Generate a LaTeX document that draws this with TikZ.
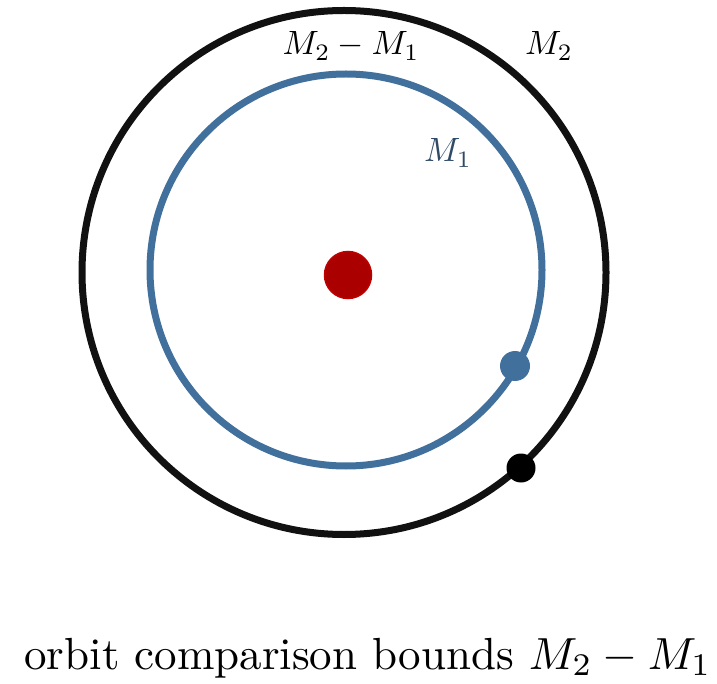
\documentclass[tikz,border=0pt]{standalone}
\usepackage{graphicx}
\usepackage{tikz}
\definecolor{orbblue}{HTML}{41709C}
\definecolor{lblblue}{HTML}{2E4A66}
\definecolor{sunred}{HTML}{AA0000}
\definecolor{sunedge}{HTML}{BF0000}
\definecolor{outerk}{HTML}{111111}
\newcommand{\lblsc}[1]{\scalebox{3.37}{#1}}
\begin{document}
\begin{tikzpicture}[x=1pt,y=-1pt,
  orbit/.style={line width=7pt},
  lbl/.style={inner sep=0pt,anchor=base}]
\useasboundingbox (0,0) rectangle (717,684);
\coordinate (oc) at (344,272.5);
\coordinate (ic) at (346,270);
\draw[orbit,outerk] (oc) circle[radius=262];
\draw[orbit,orbblue] (ic) circle[radius=196];
\node[circle,fill=sunred,draw=sunedge,line width=1.5pt,minimum size=47pt,inner sep=0pt] (sun) at (348,275) {};
\node[circle,fill=orbblue,minimum size=30pt,inner sep=0pt] (p1) at (515,366) {};
\node[circle,fill=black,minimum size=29pt,inner sep=0pt] (p2) at (521,468) {};
\node[lbl] (ldiff) at (351,55) {\lblsc{$M_2-M_1$}};
\node[lbl] (l2) at (549,55) {\lblsc{$M_2$}};
\node[lbl,text=lblblue] (l1) at (448,162) {\lblsc{$M_1$}};
\node[lbl] (cap) at (368,669) {\scalebox{4.5}{orbit comparison bounds $M_2-M_1$}};
\end{tikzpicture}
\end{document}
